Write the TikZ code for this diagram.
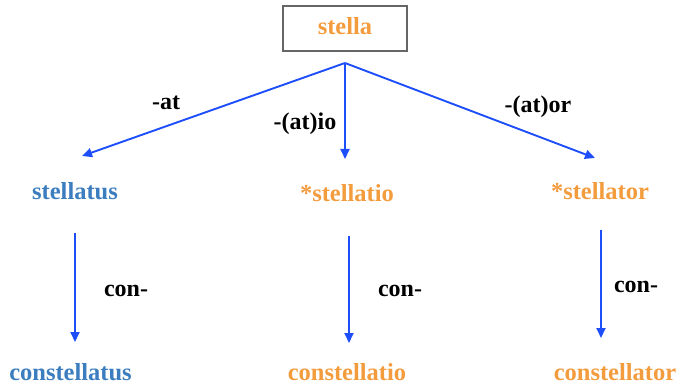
\documentclass[tikz,border=0pt]{standalone}
\usepackage{fontspec}
\setmainfont{Liberation Serif}
\usetikzlibrary{arrows.meta}
\definecolor{wordblue}{HTML}{3B7DBF}
\definecolor{wordorange}{HTML}{F39C3E}
\definecolor{linkblue}{HTML}{1E4EFA}
\definecolor{framegray}{HTML}{666666}
\begin{document}
\begin{tikzpicture}[x=1pt,y=-1pt,
  word/.style={inner sep=0pt,anchor=base,font=\fontsize{24.5}{28}\selectfont\bfseries},
  blueword/.style={word,text=wordblue},
  orangeword/.style={word,text=wordorange},
  affix/.style={inner sep=0pt,anchor=base,font=\fontsize{24}{28}\selectfont\bfseries,text=black},
  link/.style={draw=linkblue,line width=1.9pt,-{Triangle[length=10pt,width=9pt]}},
  rootbox/.style={draw=framegray,line width=1.3pt,minimum width=124pt,minimum height=45pt,inner sep=0pt}
]
\useasboundingbox (0,0) rectangle (681,385);

% root word in its frame
\node[rootbox] (rootframe) at (345,28.5) {};
\node[orangeword] (stella) at (345,35) {stella};
\coordinate (hub) at (345,63);

% first derivations
\node[blueword] (stellatus) at (75,200) {stellatus};
\node[orangeword] (stellatio) at (347,202) {*stellatio};
\node[orangeword] (stellator) at (600,200) {*stellator};

% prefixed forms
\node[blueword] (constellatus) at (70.5,380.5) {constellatus};
\node[orangeword] (constellatio) at (347,380.5) {constellatio};
\node[orangeword] (constellator) at (615,380.5) {constellator};

% arrow ends
\coordinate (tipA) at (82,156);
\coordinate (tipB) at (345,159);
\coordinate (tipC) at (595,158);
\coordinate (startA) at (75,233);
\coordinate (endA) at (75,342);
\coordinate (startB) at (349,236);
\coordinate (endB) at (349,343);
\coordinate (startC) at (601,230);
\coordinate (endC) at (601,338);

\draw[link] (hub) -- (tipA);
\draw[link] (hub) -- (tipB);
\draw[link] (hub) -- (tipC);
\draw[link] (startA) -- (endA);
\draw[link] (startB) -- (endB);
\draw[link] (startC) -- (endC);

% suffix and prefix labels
\node[affix] (at) at (166,110) {-at};
\node[affix] (atio) at (305,130) {-(at)io};
\node[affix] (ator) at (538,113) {-(at)or};
\node[affix] (conA) at (126,297) {con-};
\node[affix] (conB) at (400,297) {con-};
\node[affix] (conC) at (636,293) {con-};
\end{tikzpicture}
\end{document}
